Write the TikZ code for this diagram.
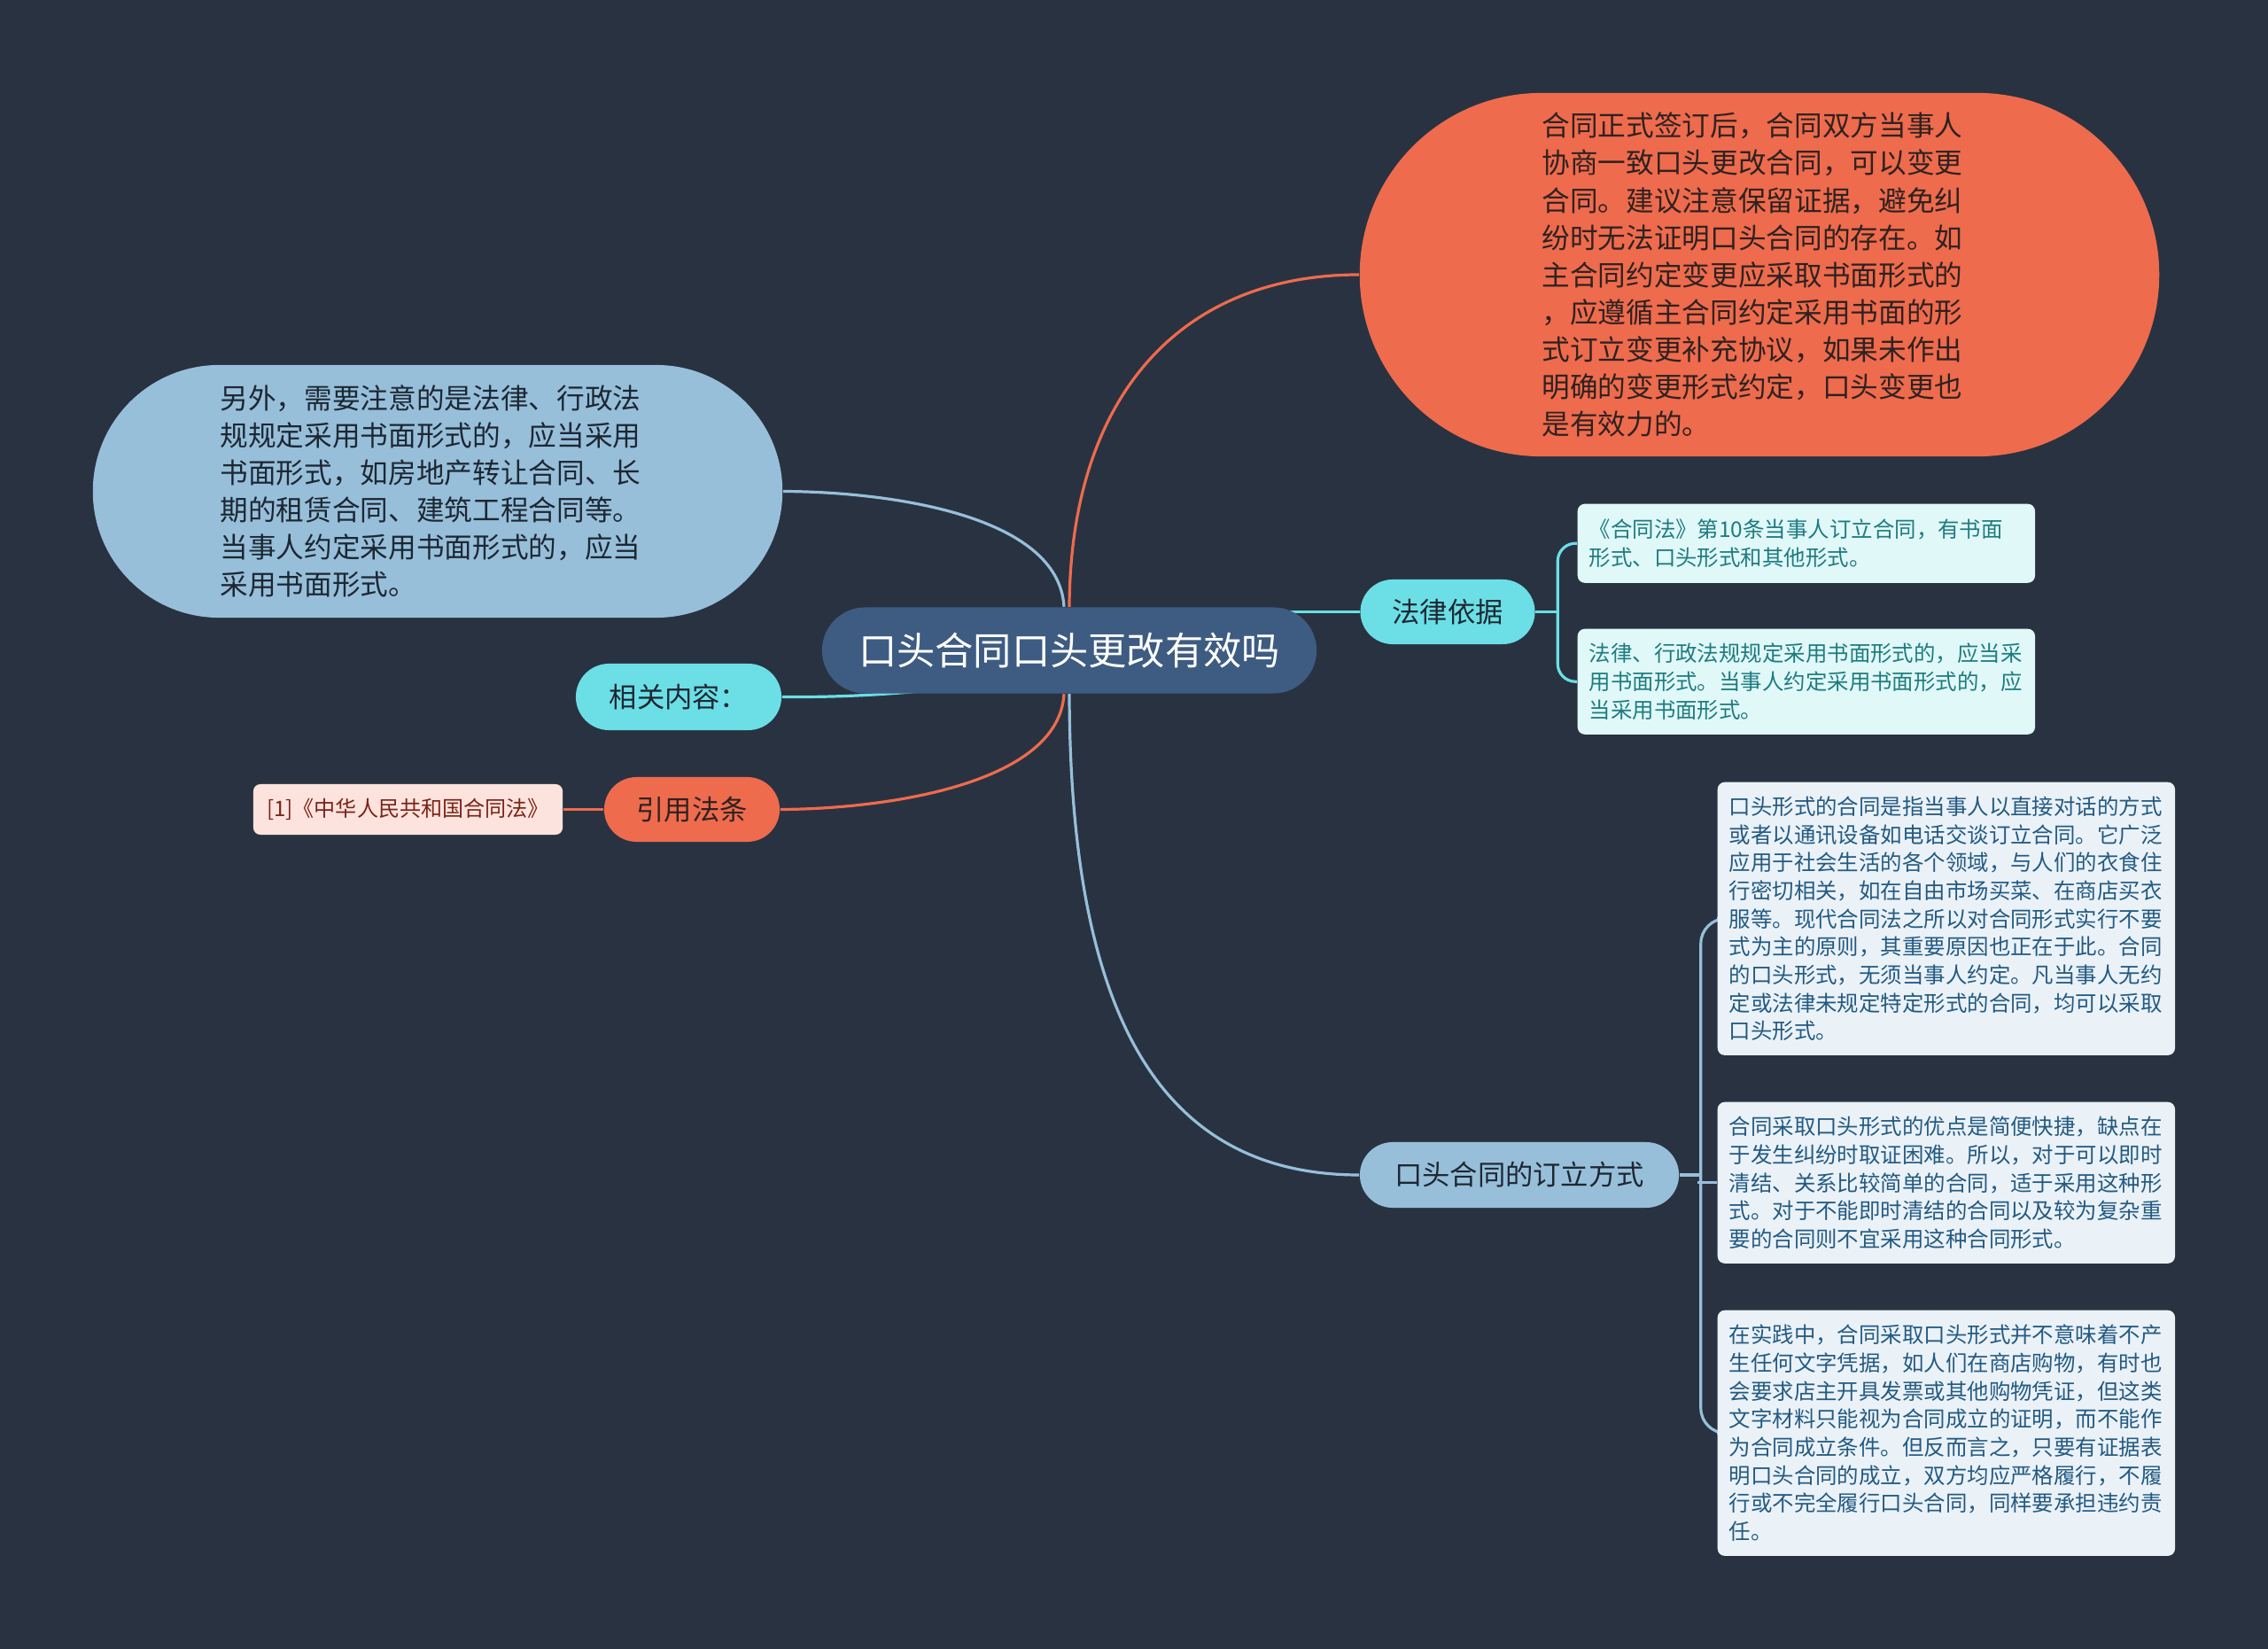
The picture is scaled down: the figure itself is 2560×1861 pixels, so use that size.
\documentclass[tikz,border=0pt]{standalone}
\usepackage{fontspec}
\setmainfont{Noto Sans CJK SC}
\usetikzlibrary{calc}
\pgfdeclarelayer{back}
\pgfdeclarelayer{bg}
\pgfsetlayers{back,bg,main}
\definecolor{bgc}{HTML}{293241}
\definecolor{centc}{HTML}{3E5C82}
\definecolor{orc}{HTML}{EE6B4D}
\definecolor{lbc}{HTML}{97BFDA}
\definecolor{cyc}{HTML}{6BDFE5}
\definecolor{pkc}{HTML}{FDE3DD}
\definecolor{pkt}{HTML}{7A2418}
\definecolor{tlf}{HTML}{E1F8F8}
\definecolor{tlt}{HTML}{1E7C80}
\definecolor{lbf}{HTML}{EAF2F8}
\definecolor{lbt}{HTML}{245A82}
\definecolor{dk}{HTML}{1D2733}
\definecolor{ort}{HTML}{2E2220}
\tikzset{
  conn/.style={line width=0.032cm},
  bignode/.style={inner sep=0pt, align=left, font=\fontsize{9}{11.95}\selectfont},
  midnode/.style={inner sep=0pt, align=center, text=dk, font=\fontsize{8.9}{10}\selectfont},
  leafbox/.style={anchor=north west, inner xsep=0.13cm, inner ysep=0pt, text width=4.9cm,
    align=left, rounded corners=0.08cm, font=\fontsize{6.95}{9}\selectfont},
}
\begin{document}
\begin{tikzpicture}[x=0.01cm,y=-0.01cm]
\begin{pgfonlayer}{back}
\fill[bgc] (0,0) rectangle (2560,1861);
\end{pgfonlayer}
\useasboundingbox (0,0) rectangle (2560,1861);

% central
\node[fill=centc, rounded corners=0.485cm, minimum width=5.58cm, minimum height=0.97cm,
  inner sep=0pt, text=white, font=\fontsize{12.3}{15}\selectfont] (c) at (1207,734) {口头合同口头更改有效吗};

% big orange
\node[bignode, fill=orc, text=ort, rounded corners=2.05cm, minimum width=9.02cm, minimum height=4.1cm] (o) at (1986,310)
{合同正式签订后，合同双方当事人\hspace*{0.16cm}\\协商一致口头更改合同，可以变更\\合同。建议注意保留证据，避免纠\\纷时无法证明口头合同的存在。如\\主合同约定变更应采取书面形式的\\，应遵循主合同约定采用书面的形\\式订立变更补充协议，如果未作出\\明确的变更形式约定，口头变更也\\是有效力的。};

% big light blue
\node[bignode, fill=lbc, text=dk, rounded corners=1.425cm, minimum width=7.78cm, minimum height=2.85cm] (l) at (494,554.5)
{另外，需要注意的是法律、行政法\hspace*{0.16cm}\\规规定采用书面形式的，应当采用\\书面形式，如房地产转让合同、长\\期的租赁合同、建筑工程合同等。\\当事人约定采用书面形式的，应当\\采用书面形式。};

% middle nodes
\node[midnode, fill=cyc, rounded corners=0.375cm, minimum width=2.32cm, minimum height=0.75cm] (rel) at (766,786.5) {相关内容：};
\node[midnode, fill=orc, text=ort, rounded corners=0.365cm, minimum width=1.98cm, minimum height=0.73cm] (cite) at (781,913.5) {引用法条};
\node[fill=pkc, text=pkt, rounded corners=0.08cm, minimum width=3.49cm, minimum height=0.57cm, inner sep=0pt,
  font=\fontsize{6.85}{8}\selectfont] (pink) at (460.5,913.5) {[1]《中华人民共和国合同法》};
\node[midnode, fill=cyc, rounded corners=0.365cm, minimum width=1.97cm, minimum height=0.73cm] (law) at (1634,690.5) {法律依据};
\node[midnode, fill=lbc, rounded corners=0.37cm, minimum width=3.6cm, minimum height=0.74cm] (oral) at (1715,1326) {口头合同的订立方式};

% leaf boxes
\node[leafbox, fill=tlf, text=tlt, minimum height=0.89cm] (t1) at (1780,568)
{《合同法》第10条当事人订立合同，有书面\\形式、口头形式和其他形式。};
\node[leafbox, fill=tlf, text=tlt, minimum height=1.19cm] (t2) at (1780,709)
{法律、行政法规规定采用书面形式的，应当采\\用书面形式。当事人约定采用书面形式的，应\\当采用书面形式。};
\node[leafbox, fill=lbf, text=lbt, minimum height=3.08cm] (bA) at (1938,882)
{口头形式的合同是指当事人以直接对话的方式\\或者以通讯设备如电话交谈订立合同。它广泛\\应用于社会生活的各个领域，与人们的衣食住\\行密切相关，如在自由市场买菜、在商店买衣\\服等。现代合同法之所以对合同形式实行不要\\式为主的原则，其重要原因也正在于此。合同\\的口头形式，无须当事人约定。凡当事人无约\\定或法律未规定特定形式的合同，均可以采取\\口头形式。};
\node[leafbox, fill=lbf, text=lbt, minimum height=1.82cm] (bB) at (1938,1243)
{合同采取口头形式的优点是简便快捷，缺点在\\于发生纠纷时取证困难。所以，对于可以即时\\清结、关系比较简单的合同，适于采用这种形\\式。对于不能即时清结的合同以及较为复杂重\\要的合同则不宜采用这种合同形式。};
\node[leafbox, fill=lbf, text=lbt, minimum height=2.77cm] (bC) at (1938,1478)
{在实践中，合同采取口头形式并不意味着不产\\生任何文字凭据，如人们在商店购物，有时也\\会要求店主开具发票或其他购物凭证，但这类\\文字材料只能视为合同成立的证明，而不能作\\为合同成立条件。但反而言之，只要有证据表\\明口头合同的成立，双方均应严格履行，不履\\行或不完全履行口头合同，同样要承担违约责\\任。};

% connectors
\begin{pgfonlayer}{bg}
\draw[conn, orc] (c.north) .. controls (1208,450) and (1330,310) .. (o.west);
\draw[conn, lbc] ([xshift=-0.06cm]c.north) .. controls (1195,580) and (1000,555) .. (l.east);
\draw[conn, orc] ([xshift=-0.06cm]c.south) .. controls (1195,885) and (1000,913) .. (cite.east);
\draw[conn, lbc] (c.south) .. controls (1208,1130) and (1300,1326) .. (oral.west);
\draw[conn, cyc] ([xshift=-0.9cm,yshift=0.12cm]c.south) .. controls (1020,784) and (950,787) .. (rel.east);
\draw[conn, cyc] (law.west) -- ++(-100,0);
\draw[conn, orc] (cite.west) -- (pink.east);
\draw[conn, cyc] (law.east) -- ++(25,0);
\draw[conn, cyc, rounded corners=0.2cm] (t1.west) -| ($(law.east)+(25,0)$) |- (t2.west);
\draw[conn, lbc] (oral.east) -- ++(24,0);
\draw[conn, lbc, rounded corners=0.28cm] (bA.west) -| ($(oral.east)+(24,0)$) |- (bC.west);
\draw[conn, lbc] (bB.west) -- ++(-22,0);
\end{pgfonlayer}
\end{tikzpicture}
\end{document}
